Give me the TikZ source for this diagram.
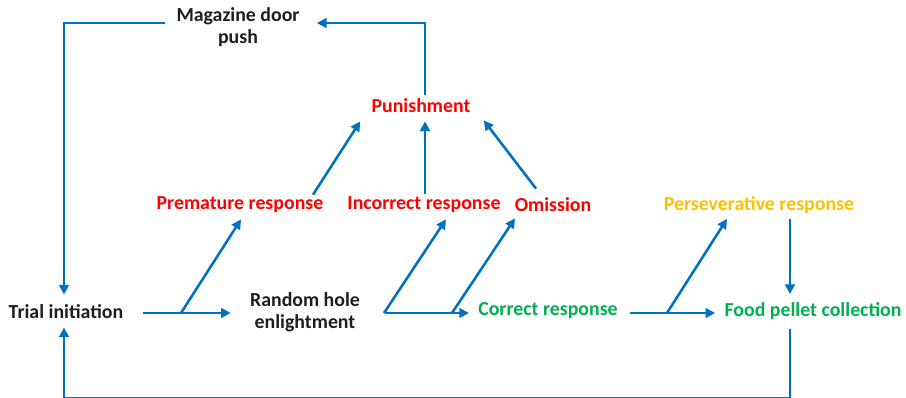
\documentclass[tikz,border=0pt]{standalone}
\usepackage{fontspec}
\setmainfont{Carlito}
\usetikzlibrary{arrows.meta}
\definecolor{flowblue}{RGB}{0,112,192}
\definecolor{txtgray}{RGB}{30,30,30}
\definecolor{badred}{RGB}{255,0,0}
\definecolor{goodgreen}{RGB}{0,176,80}
\definecolor{warnorange}{RGB}{255,192,0}

\begin{document}
\begin{tikzpicture}[x=0.02cm,y=-0.02cm,
    lbl/.style={inner sep=0pt,align=center,text=txtgray,font=\fontsize{11.3}{12.7}\selectfont\bfseries},
    bad/.style={lbl,text=badred},
    good/.style={lbl,text=goodgreen},
    warn/.style={lbl,text=warnorange},
    flow/.style={draw=flowblue,line width=1.45pt,-{Triangle[length=5.5pt,width=5.5pt]}}]
  \useasboundingbox (0,0) rectangle (906,398);
  % states
  \node[lbl]  (mag)   at (238,27)  {Magazine door\\push};
  \node[bad]  (pun)   at (421,106) {Punishment};
  \node[bad]  (prem)  at (240,205) {Premature response};
  \node[bad]  (inc)   at (424,205) {Incorrect response};
  \node[bad]  (omi)   at (553,205) {Omission};
  \node[warn] (pers)  at (759,205) {Perseverative response};
  \node[lbl]  (trial) at (66,312)  {Trial initiation};
  \node[lbl]  (rand)  at (305,312) {Random hole\\enlightment};
  \node[good] (cor)   at (548,311) {Correct response};
  \node[good] (food)  at (813,311) {Food pellet collection};
  % branch points
  \coordinate (b1) at (181,313);
  \coordinate (b2) at (384,313);
  \coordinate (b3) at (452,313);
  \coordinate (b4) at (667,313);
  % main line
  \draw[flow] ([shift={(19,1)}]trial.east) -- ([shift={(-19,1)}]rand.west);
  \draw[flow] ([shift={(25,1)}]rand.east) -- ([shift={(-9,2)}]cor.west);
  \draw[flow] ([shift={(12,2)}]cor.east) -- ([shift={(-9,2)}]food.west);
  % branches
  \draw[flow] (b1) -- ([shift={(1,6)}]prem.south);
  \draw[flow] (b2) -- ([shift={(22,6)}]inc.south);
  \draw[flow] (b3) -- ([shift={(-38,6)}]omi.south);
  \draw[flow] (b4) -- ([shift={(-32,5)}]pers.south);
  \draw[flow] ([shift={(31,5)}]pers.south) -- ([shift={(-23,-8)}]food.north);
  % errors to punishment
  \draw[flow] ([shift={(73,-2)}]prem.north) -- ([shift={(-11,8)}]pun.south west);
  \draw[flow] ([shift={(1,-3)}]inc.north) -- ([shift={(4,8)}]pun.south);
  \draw[flow] ([shift={(-17,-9)}]omi.north) -- ([shift={(13,7)}]pun.south east);
  % loops back
  \draw[flow] ([shift={(4,-4)}]pun.north) |- ([shift={(17,-4)}]mag.east);
  \draw[flow] ([shift={(-11,-4)}]mag.west) -| ([shift={(-2,-10)}]trial.north);
  \draw[flow] ([shift={(-23,9)}]food.south) -- ++(0,69) -| ([shift={(-2,8)}]trial.south);
\end{tikzpicture}
\end{document}
